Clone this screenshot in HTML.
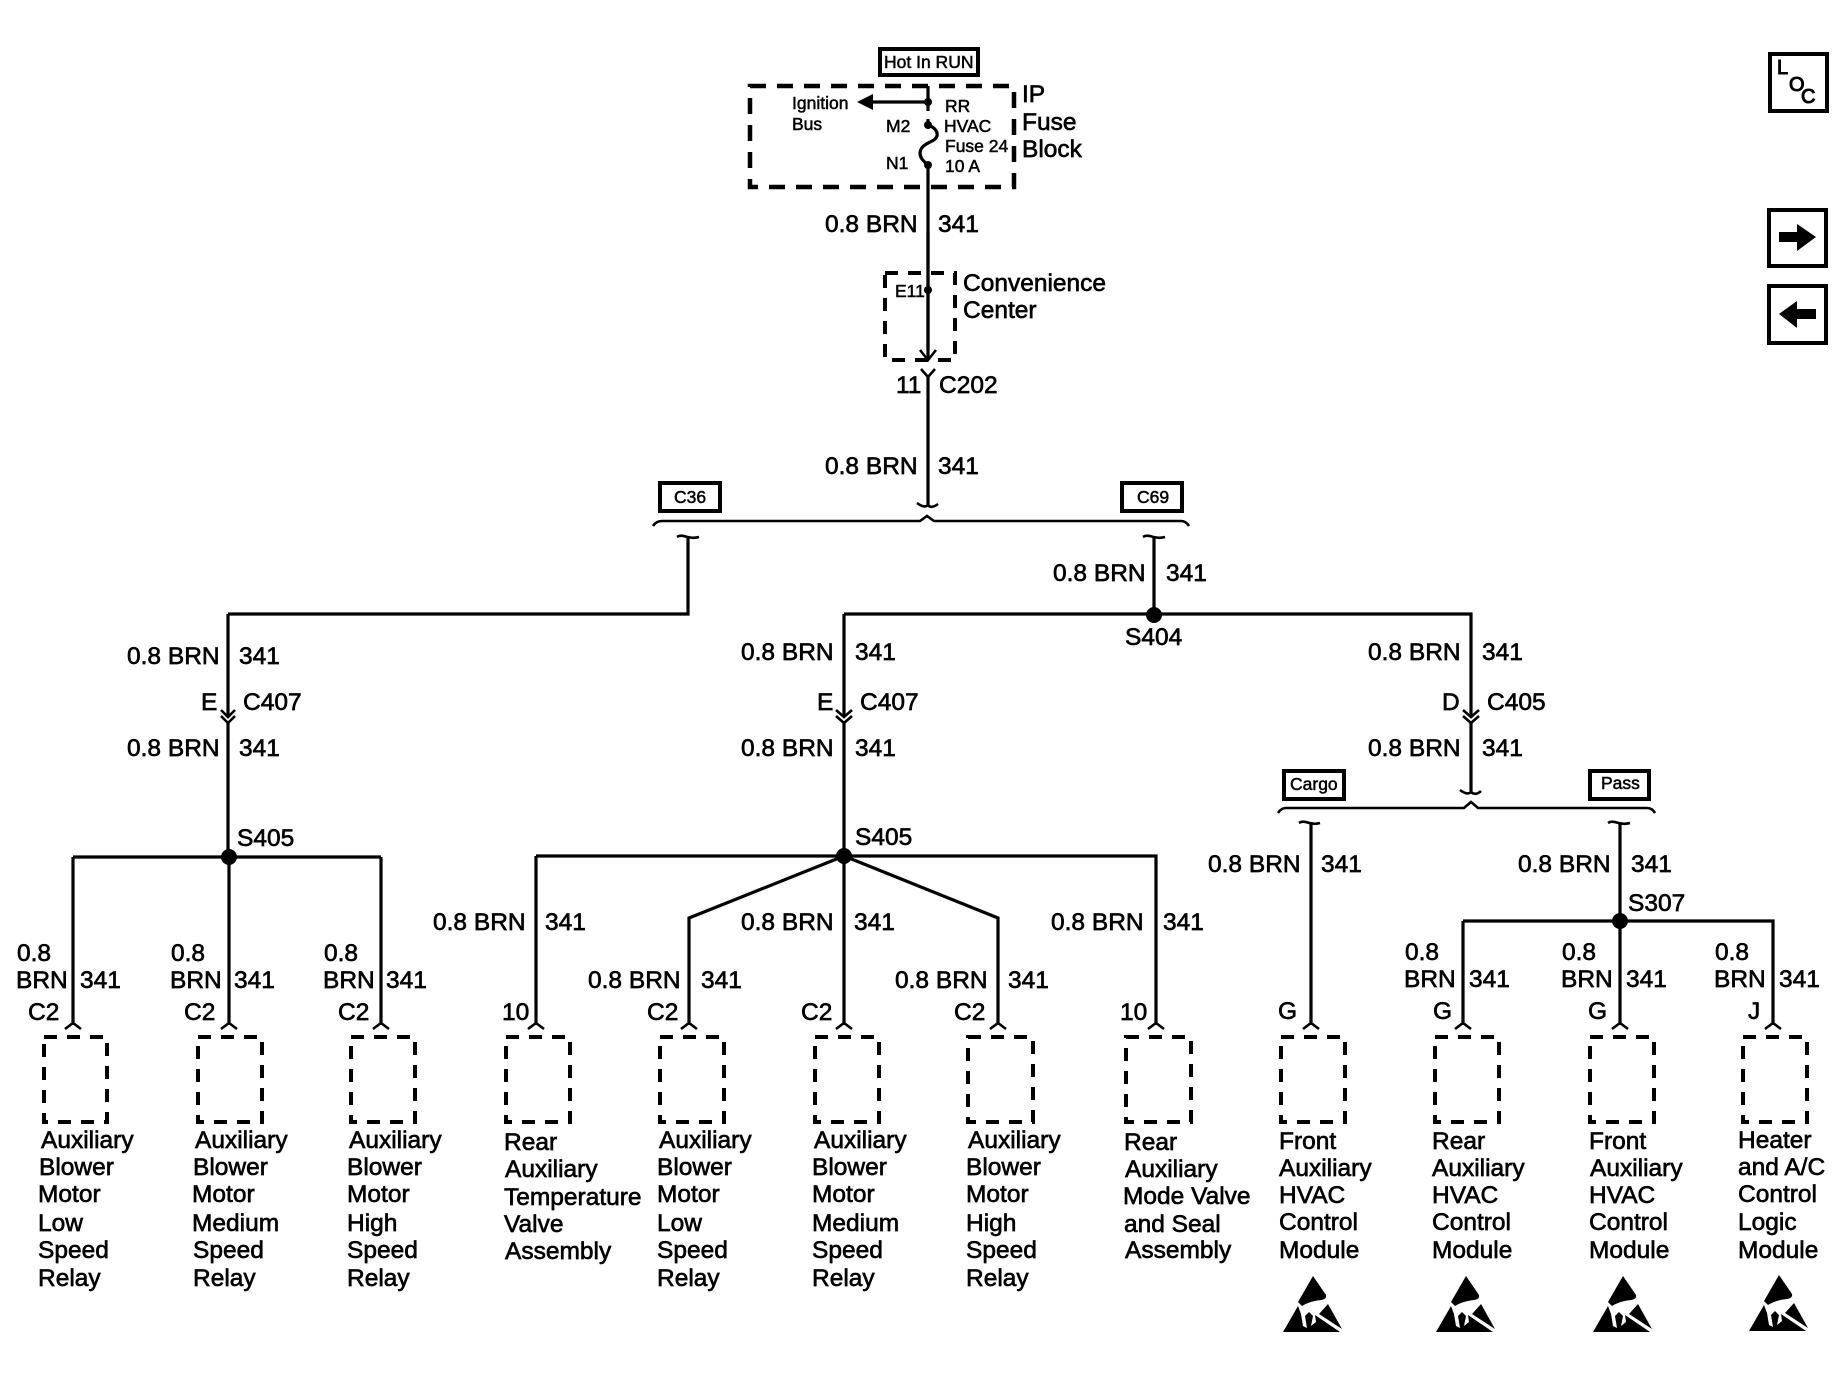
<!DOCTYPE html>
<html>
<head>
<meta charset="utf-8">
<style>
html,body{margin:0;padding:0;background:#fff;width:1848px;height:1376px;overflow:hidden}
svg{display:block}
text{font-family:"Liberation Sans",sans-serif;fill:#000;stroke:#000;stroke-width:.65px}
.m{font-size:24.5px}
.s{font-size:17.5px;stroke-width:.5px}
.w{fill:none;stroke:#000;stroke-width:3.2}
.c{fill:none;stroke:#000;stroke-width:2.6}
.d{fill:none;stroke:#000;stroke-width:4;stroke-dasharray:13 10}
.D{fill:none;stroke:#000;stroke-width:4.5;stroke-dasharray:16 11}
.b{fill:none;stroke:#000;stroke-width:4}
.f{fill:#000;stroke:none}
</style>
</head>
<body>
<svg width="1848" height="1376" viewBox="0 0 1848 1376" xmlns="http://www.w3.org/2000/svg">
<!-- top boxes -->
<rect class="b" x="880" y="49" width="98" height="26"/>
<text class="s" x="884" y="68">Hot In RUN</text>
<rect class="D" x="750" y="86" width="264" height="101"/>
<path class="w" d="M928 86V111M928 119V125C934 127 938 131 937 136C935 143 921 142 920 153C920 159 925 162 928 165V350"/>
<path class="w" d="M928 102H870"/>
<path class="f" d="M857 102L873 94V110Z"/>
<circle class="f" cx="928" cy="102" r="4"/>
<circle class="f" cx="928" cy="125" r="4"/>
<circle class="f" cx="928" cy="165" r="4"/>
<text class="s" x="792" y="109">Ignition</text>
<text class="s" x="792" y="130">Bus</text>
<text class="s" x="886" y="132">M2</text>
<text class="s" x="886" y="169">N1</text>
<text class="s" x="945" y="112">RR</text>
<text class="s" x="944" y="132">HVAC</text>
<text class="s" x="945" y="152">Fuse 24</text>
<text class="s" x="945" y="172">10 A</text>
<text class="m" x="1022" y="102">IP</text>
<text class="m" x="1022" y="130">Fuse</text>
<text class="m" x="1022" y="157">Block</text>
<text class="m" x="825" y="232">0.8 BRN</text>
<text class="m" x="938" y="232">341</text>

<rect class="d" x="885" y="273" width="70" height="87"/>
<path class="w" d="M928 232V360"/>
<path class="c" d="M920 350L928 360L936 350"/>
<circle class="f" cx="928" cy="290" r="4"/>
<text class="s" x="895" y="297">E11</text>
<text class="m" x="963" y="291">Convenience</text>
<text class="m" x="963" y="318">Center</text>
<path class="c" d="M921 369L928 377L935 369"/>
<path class="w" d="M928 377V505"/>
<text class="m" x="896" y="393">11</text>
<text class="m" x="939" y="393">C202</text>
<text class="m" x="825" y="474">0.8 BRN</text>
<text class="m" x="938" y="474">341</text>

<!-- bracket 1 -->
<path class="c" d="M917 503C921 506 925 508 928 505C930 508 934 507 938 504"/>
<path class="c" d="M653 526Q656 521 662 521H920L927 516L934 521H1181Q1186 521 1189 526"/>
<rect class="b" x="660" y="483" width="60" height="28"/>
<text class="s" x="674" y="503">C36</text>
<rect class="b" x="1122" y="483" width="60" height="28"/>
<text class="s" x="1137" y="503">C69</text>

<path class="c" d="M677 537C683 533 688 540 699 537"/>
<path class="w" d="M688 536V614H228"/>
<path class="c" d="M1143 537C1149 533 1154 540 1165 537"/>
<path class="w" d="M1154 536V614"/>
<path class="w" d="M844 614H1471V717"/>
<path class="w" d="M844 614V717"/>
<circle class="f" cx="1154" cy="615" r="8"/>
<text class="m" x="1053" y="581">0.8 BRN</text>
<text class="m" x="1166" y="581">341</text>
<text class="m" x="1125" y="645">S404</text>

<!-- left trunk -->
<path class="w" d="M228 614V717"/>
<path class="c" d="M221 710L228 717L235 710M221 716L228 723L235 716"/>
<path class="w" d="M228 723V856"/>
<text class="m" x="127" y="664">0.8 BRN</text>
<text class="m" x="239" y="664">341</text>
<text class="m" x="201" y="710">E</text>
<text class="m" x="243" y="710">C407</text>
<text class="m" x="127" y="756">0.8 BRN</text>
<text class="m" x="239" y="756">341</text>
<text class="m" x="237" y="846">S405</text>
<circle class="f" cx="229" cy="857" r="8"/>
<path class="w" d="M73 857H381M73 857V1025M229 857V1025M381 857V1025"/>

<!-- centre trunk -->
<path class="c" d="M836 710L844 717L852 710M836 716L844 723L852 716"/>
<path class="w" d="M844 723V856"/>
<text class="m" x="741" y="660">0.8 BRN</text>
<text class="m" x="855" y="660">341</text>
<text class="m" x="817" y="710">E</text>
<text class="m" x="860" y="710">C407</text>
<text class="m" x="741" y="756">0.8 BRN</text>
<text class="m" x="855" y="756">341</text>
<text class="m" x="855" y="845">S405</text>
<circle class="f" cx="844" cy="856" r="8"/>
<path class="w" d="M536 856H1156V1025M536 856V1025M844 856V1025"/>
<path class="w" d="M844 856L689 918V1025M844 856L998 918V1025"/>

<!-- right trunk -->
<path class="c" d="M1463 710L1471 717L1479 710M1463 716L1471 723L1479 716"/>
<path class="w" d="M1471 723V792"/>
<text class="m" x="1368" y="660">0.8 BRN</text>
<text class="m" x="1482" y="660">341</text>
<text class="m" x="1442" y="710">D</text>
<text class="m" x="1487" y="710">C405</text>
<text class="m" x="1368" y="756">0.8 BRN</text>
<text class="m" x="1482" y="756">341</text>

<!-- bracket 2 -->
<path class="c" d="M1460 790C1464 793 1468 795 1471 792C1474 795 1478 794 1481 791"/>
<path class="c" d="M1278 813Q1281 808 1286 808H1464L1471 802L1478 808H1647Q1652 808 1655 813"/>
<rect class="b" x="1284" y="771" width="60" height="28"/>
<text class="s" x="1290" y="790">Cargo</text>
<rect class="b" x="1590" y="771" width="59" height="28"/>
<text class="s" x="1601" y="789">Pass</text>
<path class="c" d="M1299 823C1305 819 1310 826 1320 823"/>
<path class="w" d="M1311 822V1025"/>
<path class="c" d="M1608 823C1614 819 1619 826 1630 823"/>
<path class="w" d="M1620 822V1025"/>
<text class="m" x="1208" y="872">0.8 BRN</text>
<text class="m" x="1321" y="872">341</text>
<text class="m" x="1518" y="872">0.8 BRN</text>
<text class="m" x="1631" y="872">341</text>
<text class="m" x="1628" y="911">S307</text>
<circle class="f" cx="1620" cy="921" r="8"/>
<path class="w" d="M1463 921H1773V1025M1463 921V1025"/>

<!-- carets -->
<path class="c" d="M65 1029L73 1023L81 1029M221 1029L229 1023L237 1029M373 1029L381 1023L389 1029"/>
<path class="c" d="M528 1029L536 1023L544 1029M681 1029L689 1023L697 1029M836 1029L844 1023L852 1029M990 1029L998 1023L1006 1029M1148 1029L1156 1023L1164 1029"/>
<path class="c" d="M1303 1029L1311 1023L1319 1029M1455 1029L1463 1023L1471 1029M1612 1029L1620 1023L1628 1029M1765 1029L1773 1023L1781 1029"/>

<!-- dashed device boxes -->
<rect class="d" x="44" y="1037" width="63" height="85"/>
<rect class="d" x="198" y="1037" width="64" height="85"/>
<rect class="d" x="351" y="1037" width="64" height="85"/>
<rect class="d" x="506" y="1037" width="64" height="85"/>
<rect class="d" x="660" y="1037" width="64" height="85"/>
<rect class="d" x="815" y="1037" width="64" height="85"/>
<rect class="d" x="968" y="1037" width="65" height="85"/>
<rect class="d" x="1126" y="1037" width="65" height="85"/>
<rect class="d" x="1281" y="1037" width="64" height="85"/>
<rect class="d" x="1435" y="1037" width="64" height="85"/>
<rect class="d" x="1590" y="1037" width="64" height="85"/>
<rect class="d" x="1743" y="1037" width="64" height="85"/>

<!-- wire labels lower -->
<g>
<text class="m" x="17" y="961">0.8</text><text class="m" x="16" y="988">BRN</text><text class="m" x="80" y="988">341</text><text class="m" x="28" y="1020">C2</text>
<text class="m" x="171" y="961">0.8</text><text class="m" x="170" y="988">BRN</text><text class="m" x="234" y="988">341</text><text class="m" x="184" y="1020">C2</text>
<text class="m" x="324" y="961">0.8</text><text class="m" x="323" y="988">BRN</text><text class="m" x="386" y="988">341</text><text class="m" x="338" y="1020">C2</text>
<text class="m" x="433" y="930">0.8 BRN</text><text class="m" x="545" y="930">341</text><text class="m" x="502" y="1020">10</text>
<text class="m" x="588" y="988">0.8 BRN</text><text class="m" x="701" y="988">341</text><text class="m" x="647" y="1020">C2</text>
<text class="m" x="741" y="930">0.8 BRN</text><text class="m" x="854" y="930">341</text><text class="m" x="801" y="1020">C2</text>
<text class="m" x="895" y="988">0.8 BRN</text><text class="m" x="1008" y="988">341</text><text class="m" x="954" y="1020">C2</text>
<text class="m" x="1051" y="930">0.8 BRN</text><text class="m" x="1163" y="930">341</text><text class="m" x="1120" y="1020">10</text>
<text class="m" x="1278" y="1019">G</text>
<text class="m" x="1405" y="960">0.8</text><text class="m" x="1404" y="987">BRN</text><text class="m" x="1469" y="987">341</text><text class="m" x="1433" y="1019">G</text>
<text class="m" x="1562" y="960">0.8</text><text class="m" x="1561" y="987">BRN</text><text class="m" x="1626" y="987">341</text><text class="m" x="1588" y="1019">G</text>
<text class="m" x="1715" y="960">0.8</text><text class="m" x="1714" y="987">BRN</text><text class="m" x="1779" y="987">341</text><text class="m" x="1748" y="1019">J</text>
</g>

<!-- device labels -->
<g>
<text class="m" x="41" y="1148">Auxiliary</text><text class="m" x="39" y="1175">Blower</text><text class="m" x="38" y="1202">Motor</text><text class="m" x="38" y="1231">Low</text><text class="m" x="38" y="1258">Speed</text><text class="m" x="38" y="1286">Relay</text>
<text class="m" x="195" y="1148">Auxiliary</text><text class="m" x="193" y="1175">Blower</text><text class="m" x="192" y="1202">Motor</text><text class="m" x="192" y="1231">Medium</text><text class="m" x="193" y="1258">Speed</text><text class="m" x="193" y="1286">Relay</text>
<text class="m" x="349" y="1148">Auxiliary</text><text class="m" x="347" y="1175">Blower</text><text class="m" x="347" y="1202">Motor</text><text class="m" x="347" y="1231">High</text><text class="m" x="347" y="1258">Speed</text><text class="m" x="347" y="1286">Relay</text>
<text class="m" x="504" y="1150">Rear</text><text class="m" x="505" y="1177">Auxiliary</text><text class="m" x="504" y="1205">Temperature</text><text class="m" x="504" y="1232">Valve</text><text class="m" x="505" y="1259">Assembly</text>
<text class="m" x="659" y="1148">Auxiliary</text><text class="m" x="657" y="1175">Blower</text><text class="m" x="657" y="1202">Motor</text><text class="m" x="657" y="1231">Low</text><text class="m" x="657" y="1258">Speed</text><text class="m" x="657" y="1286">Relay</text>
<text class="m" x="814" y="1148">Auxiliary</text><text class="m" x="812" y="1175">Blower</text><text class="m" x="812" y="1202">Motor</text><text class="m" x="812" y="1231">Medium</text><text class="m" x="812" y="1258">Speed</text><text class="m" x="812" y="1286">Relay</text>
<text class="m" x="968" y="1148">Auxiliary</text><text class="m" x="966" y="1175">Blower</text><text class="m" x="966" y="1202">Motor</text><text class="m" x="966" y="1231">High</text><text class="m" x="966" y="1258">Speed</text><text class="m" x="966" y="1286">Relay</text>
<text class="m" x="1124" y="1150">Rear</text><text class="m" x="1125" y="1177">Auxiliary</text><text class="m" x="1123" y="1204">Mode Valve</text><text class="m" x="1124" y="1232">and Seal</text><text class="m" x="1125" y="1258">Assembly</text>
<text class="m" x="1279" y="1149">Front</text><text class="m" x="1279" y="1176">Auxiliary</text><text class="m" x="1279" y="1203">HVAC</text><text class="m" x="1279" y="1230">Control</text><text class="m" x="1279" y="1258">Module</text>
<text class="m" x="1432" y="1149">Rear</text><text class="m" x="1432" y="1176">Auxiliary</text><text class="m" x="1432" y="1203">HVAC</text><text class="m" x="1432" y="1230">Control</text><text class="m" x="1432" y="1258">Module</text>
<text class="m" x="1589" y="1149">Front</text><text class="m" x="1590" y="1176">Auxiliary</text><text class="m" x="1589" y="1203">HVAC</text><text class="m" x="1589" y="1230">Control</text><text class="m" x="1589" y="1258">Module</text>
<text class="m" x="1738" y="1148">Heater</text><text class="m" x="1738" y="1175">and A/C</text><text class="m" x="1738" y="1202">Control</text><text class="m" x="1738" y="1230">Logic</text><text class="m" x="1738" y="1258">Module</text>
</g>

<!-- ESD symbols -->
<defs>
<g id="esd">
<path class="f" d="M0 0L13 19Q14 23 8 24Q-3 25 -11 30L-15 26Z"/>
<path class="f" d="M-30 56L-15 30L-12 38L-10 50L-6 52L-8 40L-4 36L0 40L-2 50L3 46L2 39L27 56Z"/>
<path class="f" d="M15 28L29 53L6 38Z"/>
</g>
</defs>
<use href="#esd" x="1313" y="1276"/>
<use href="#esd" x="1466" y="1276"/>
<use href="#esd" x="1623" y="1276"/>
<use href="#esd" x="1779" y="1275"/>

<!-- side nav -->
<rect class="b" x="1770" y="54" width="57" height="57"/>
<text x="1777" y="74" style="font-size:20px;stroke-width:1px">L</text>
<text x="1789" y="91" style="font-size:20px;stroke-width:1px">O</text>
<text x="1801" y="103" style="font-size:20px;stroke-width:1px">C</text>
<rect class="b" x="1769" y="210" width="57" height="56"/>
<path class="f" d="M1779 232H1797V224L1816 237L1797 251V242H1779Z"/>
<rect class="b" x="1769" y="286" width="57" height="57"/>
<path class="f" d="M1816 309H1797V301L1779 314L1797 328V319H1816Z"/>
</svg>
</body>
</html>
